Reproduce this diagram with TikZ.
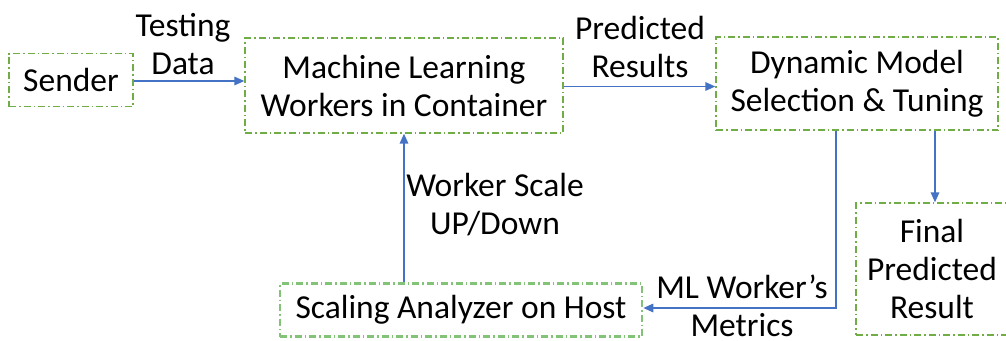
\documentclass[tikz,border=0pt]{standalone}
\usepackage{fontspec}
\setmainfont{Carlito}
\usepackage{xcolor}
\usetikzlibrary{arrows.meta,positioning}
\definecolor{boxgreen}{RGB}{112,173,71}
\definecolor{scalegreen}{RGB}{130,195,120}
\definecolor{flowblue}{RGB}{68,114,196}

\begin{document}
\begin{tikzpicture}[
  x=1pt, y=-1pt,
  font=\fontsize{33.5}{38}\selectfont,
  box/.style={draw=boxgreen, line width=1.3pt,
              dash pattern=on 7pt off 3pt on 1.5pt off 3pt,
              align=center, inner sep=0pt},
  scalebox/.style={box, draw=scalegreen, line width=2.6pt},
  flow/.style={-{Triangle[length=10pt,width=8.5pt]}, flowblue, line width=1.6pt},
  lbl/.style={align=center, inner sep=0pt}
]
\clip (0,0) rectangle (1006,340);

%% --- boxes ---
\node[box, minimum width=124pt, minimum height=53pt] (snd) at (71,80) {Sender};
\node[box, minimum width=318pt, minimum height=95pt] (mlw) at (404,85.5)
  {Machine Learning\\Workers in Container};
\node[box, minimum width=282pt, minimum height=93pt] (dms) at (857,83.5)
  {Dynamic Model\\Selection \& Tuning};
\node[box, minimum width=152pt, minimum height=132pt] (fin) at (932,269)
  {Final\\Predicted\\Result};
\node[scalebox, minimum width=362pt, minimum height=53pt] (sca) at (461,310)
  {Scaling Analyzer on Host};

%% --- connectors ---
\draw[flow] ([yshift=-1]snd.east) -- ([yshift=-1]snd.east -| mlw.west);
\draw[flow] ([yshift=-1]mlw.east) -- ([yshift=-1]mlw.east -| dms.west);
\draw[flow] ([xshift=3]fin.north |- dms.south) -- ([xshift=3]fin.north);
\draw[flow] ([xshift=-21]dms.south) |- ([yshift=2]sca.east);
\draw[flow] (sca.north -| mlw.south) -- (mlw.south);

%% --- labels ---
\node[lbl] (tdat) at (183,44) {Testing\\Data};
\node[lbl] (pres) at (640,47) {Predicted\\Results};
\node[lbl] (wsud) at (495,205) {Worker Scale\\UP/Down};
\node[lbl] (mlwm) at (742,306) {ML Worker’s\\Metrics};
\end{tikzpicture}
\end{document}
